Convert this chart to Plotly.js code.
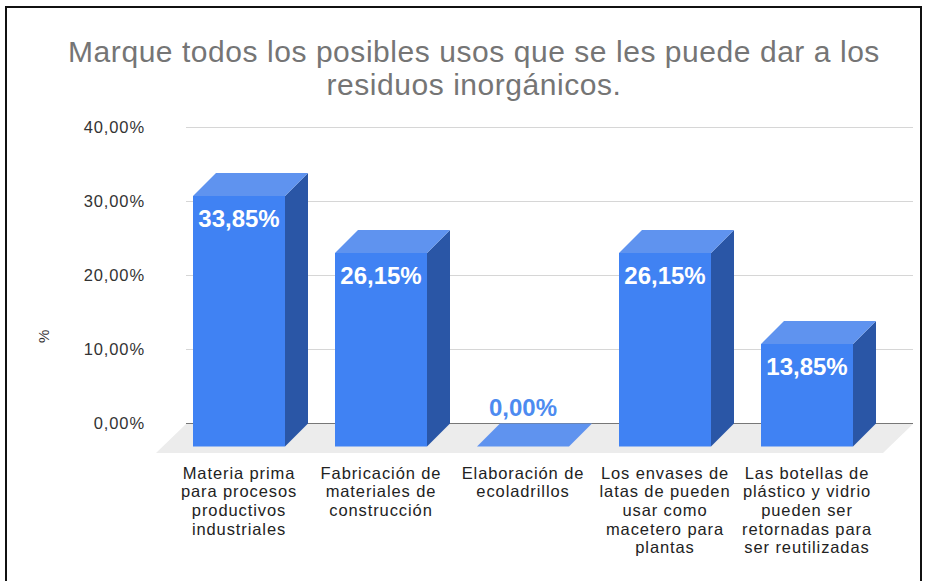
<!DOCTYPE html>
<html><head><meta charset="utf-8">
<script src="https://cdn.plot.ly/plotly-3.0.1.min.js"></script>
<style>
html,body{margin:0;padding:0;background:#fff}
.xtick text{letter-spacing:.9px}
.ytick text{letter-spacing:.9px}
.gtitle{letter-spacing:.55px}
</style></head><body>
<div id="c" style="width:929px;height:581px"></div>
<script>
const titleText = "Marque todos los posibles usos que se les puede dar a los<br>residuos inorgánicos.";
const categories = [
 "Materia prima<br>para procesos<br>productivos<br>industriales",
 "Fabricación de<br>materiales de<br>construcción",
 "Elaboración de<br>ecoladrillos",
 "Los envases de<br>latas de pueden<br>usar como<br>macetero para<br>plantas",
 "Las botellas de<br>plástico y vidrio<br>pueden ser<br>retornadas para<br>ser reutilizadas"
];
const values = [33.85, 26.15, 0, 26.15, 13.85];
const valueLabels = ["33,85%","26,15%","0,00%","26,15%","13,85%"];
const yTicks = [0,10,20,30,40];
const yTickLabels = ["0,00%","10,00%","20,00%","30,00%","40,00%"];

// plot box in page pixels
const L=186,R=913,T=126,B=453;
const pxPerUnitY=7.4, pxPerCat=142, depthPx=23, firstCenter=239, barPx=92;
const D=depthPx/pxPerUnitY, dx=depthPx/pxPerCat, w=barPx/pxPerCat;
const idx=values.map((_,i)=>i);
const px=p=>(p-L)/(R-L), py=p=>(B-p)/(B-T);

const sideX=[],sideY=[],topX=[],topY=[];
idx.forEach(i=>{
  const v=values[i], r=i+w/2, l=i-w/2;
  sideX.push(r,r,r+dx,r+dx,r,null); sideY.push(-D,v-D,v,0,-D,null);
  topX.push(l,r,r+dx,l+dx,l,null);  topY.push(v-D,v-D,v,v,v-D,null);
});
const labelY=values.map(v=>v>0? v-2*D-0.3 : 1.85);
const labelColors=values.map(v=>v>0?"#ffffff":"#4d8bf0");

const traces=[
 {type:"bar",x:idx,y:values,base:values.map(()=>-D),width:w,marker:{color:"#4082f3",line:{width:0}},hoverinfo:"skip",showlegend:false},
 {type:"scatter",mode:"lines",x:sideX,y:sideY,fill:"toself",fillcolor:"#2a56a6",line:{width:0,color:"#2a56a6"},hoverinfo:"skip",showlegend:false},
 {type:"scatter",mode:"lines",x:topX,y:topY,fill:"toself",fillcolor:"#5f93ef",line:{width:0,color:"#5f93ef"},hoverinfo:"skip",showlegend:false},
 {type:"scatter",mode:"text",x:idx,y:labelY,text:valueLabels,textposition:"middle center",
  textfont:{family:"Liberation Sans",size:24,weight:700,color:labelColors},hoverinfo:"skip",showlegend:false}
];
const layout={
 width:929,height:581,margin:{l:L,r:929-R,t:T,b:581-B,pad:0},
 paper_bgcolor:"#fff",plot_bgcolor:"rgba(0,0,0,0)",showlegend:false,barmode:"overlay",
 title:{text:titleText,x:474/929,xanchor:"center",y:1-62/581,yanchor:"middle",yref:"container",
   font:{family:"Liberation Sans",size:30,color:"#757575"}},
 xaxis:{type:"linear",range:[(L-firstCenter)/pxPerCat,(R-firstCenter)/pxPerCat],tickmode:"array",tickvals:idx,ticktext:categories,
   tickangle:0,showgrid:false,zeroline:false,showline:false,ticks:"outside",ticklen:5,tickcolor:"rgba(0,0,0,0)",
   tickfont:{family:"Liberation Sans",size:16.5,color:"#222222"},automargin:false},
 yaxis:{range:[(423.5-B)/pxPerUnitY,(423.5-T)/pxPerUnitY],tickmode:"array",tickvals:yTicks,ticktext:yTickLabels,
   gridcolor:"#d6d6d6",gridwidth:1,zeroline:true,zerolinecolor:"#777777",zerolinewidth:1,showline:false,ticks:"",ticklabelstandoff:40,
   tickfont:{family:"Liberation Sans",size:16.5,color:"#333333"},automargin:false},
 shapes:[
  {type:"path",xref:"paper",yref:"paper",layer:"below",line:{width:0},fillcolor:"#ececec",
   path:`M ${px(186)} ${py(424)} L ${px(913)} ${py(424)} L ${px(883)} ${py(453)} L ${px(156)} ${py(453)} Z`},
  {type:"path",xref:"paper",yref:"paper",layer:"above",line:{width:2,color:"#111111"},
   path:`M ${px(6)} ${py(590)} L ${px(6)} ${py(7)} L ${px(921)} ${py(7)} L ${px(921)} ${py(590)}`}
 ],
 annotations:[{text:"%",xref:"paper",yref:"y",x:px(43),y:(423.5-337)/pxPerUnitY,textangle:-90,showarrow:false,
   xanchor:"center",yanchor:"middle",font:{family:"Liberation Sans",size:15,color:"#333333"}}]
};
Plotly.newPlot("c",traces,layout,{staticPlot:true,displayModeBar:false}).then(()=>{
  // tighter line spacing of the category labels and the title, as in the reference
  document.querySelectorAll(".xtick tspan.line").forEach(t=>{
    const dy=parseFloat(t.getAttribute("dy"))||0;
    t.setAttribute("dy",(dy/1.3*1.13)+"em");
  });
  document.querySelectorAll(".gtitle tspan.line").forEach(t=>{
    const dy=parseFloat(t.getAttribute("dy"))||0;
    t.setAttribute("dy",(dy/1.3*1.1)+"em");
  });
});
</script></body></html>
